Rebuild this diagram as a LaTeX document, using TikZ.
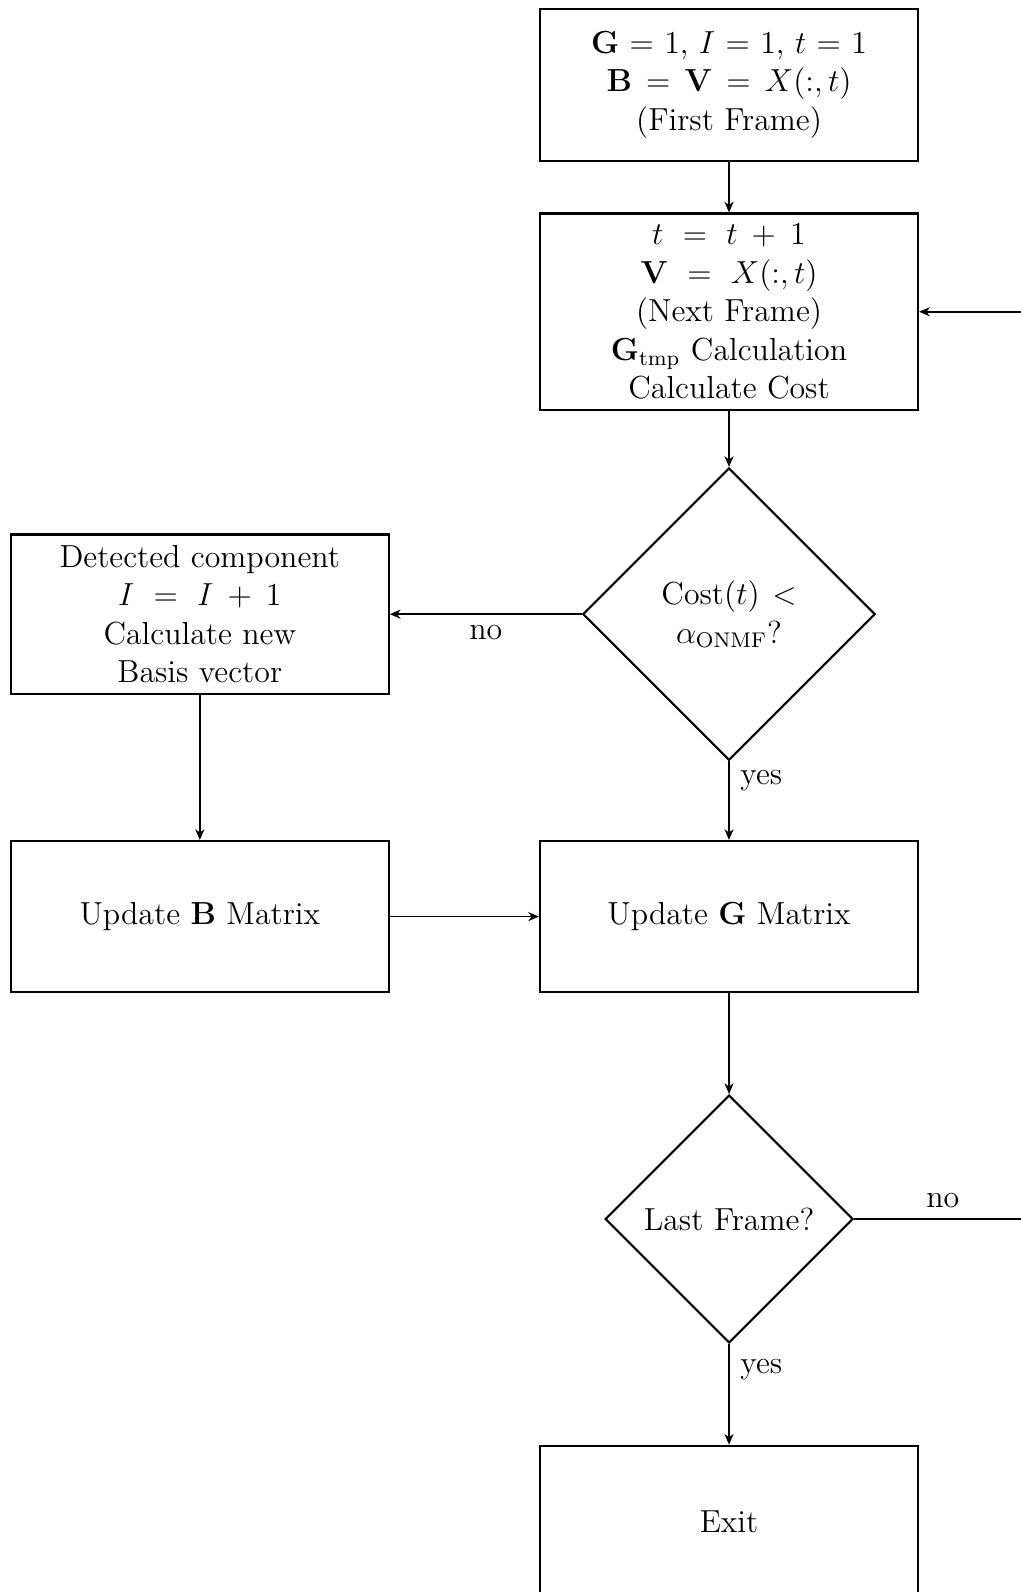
\documentclass[tikz,border=0pt,12pt]{standalone}
\usepackage{tikz}
\usetikzlibrary{
	arrows.meta,
	positioning,
	shapes.geometric,
}
\tikzset{process/.style={
		% The shape:
		rectangle,
		% The size:
		minimum width=5cm,minimum height=2cm,
		% The border:
		thick,draw=black,
		% make sure text aligns properly
		align=center,
}}
\tikzset{decision/.style={
		% The shape:
		diamond,aspect=1,
		% The size:
		text width=2.5cm,inner sep=3.4pt,
		% The border:
		thick,draw=black,
		% make sure text aligns properly
		align=center,
}}

\begin{document}
\begin{tikzpicture}[>={Stealth[length=4pt,width=3.4pt,inset=1.2pt]},semithick,
	node distance=4cm,on grid]
	\useasboundingbox (0,0) rectangle (13.505,-21.058);
	% main column
	\node [process] (init) at (9.643,-1.124) {$\mathbf{G}$ = 1, $I$ = 1, $t$ = 1\\ $\mathbf{B} \,=\, \mathbf{V} \,=\, X(:,t)$\\ (First Frame)};
	\node [process,below=3cm of init] (next) {$t ~=~ t \:+\: 1$\\ $\mathbf{V} ~=~ X(:,t)$\\ (Next Frame)\\ $\mathbf{G}_{\mathrm{tmp}}$ Calculation\\ Calculate Cost};
	\node [decision,below=of next] (cost) {Cost$(t) <$\\ $\alpha_{\mathrm{ONMF}}$?};
	\node [process,below=of cost] (updG) {Update $\mathbf{G}$ Matrix};
	\node [decision,below=of updG] (last) {Last Frame?};
	\node [process,below=of last] (exit) {Exit};
	% side column
	\node [process,left=7cm of cost] (detect) {Detected component\\ $I ~=~ I \:+\: 1$\\ Calculate new\\ Basis vector};
	\node [process,left=7cm of updG] (updB) {Update $\mathbf{B}$ Matrix};
	\coordinate [right=of last] (loop);
	% connectors
	\draw [->] (init) -- (next);
	\draw [->] (next) -- (cost);
	\draw [->] (cost) -- node [below] {no} (detect);
	\draw [->] (cost) -- node [right,near start] {yes} (updG);
	\draw [->] (detect) -- (updB);
	\draw [->] (updB) -- (updG);
	\draw [->] (updG) -- (last);
	\draw [->] (last) -- node [right,near start] {yes} (exit);
	\draw [->] (last) -- node [above] {no} (loop) |- (next);
\end{tikzpicture}
\end{document}
